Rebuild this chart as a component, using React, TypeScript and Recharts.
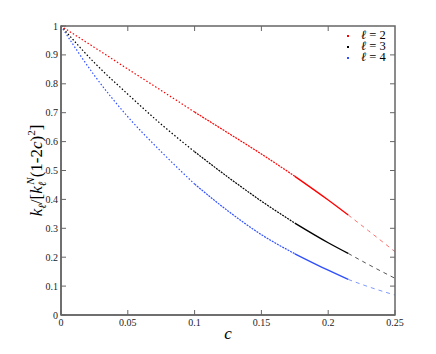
import React from 'react';
import { LineChart, Line, XAxis, YAxis } from 'recharts';

// valores (c no eixo x)
const cValues = [0, 0.025, 0.05, 0.075, 0.1, 0.125, 0.15, 0.175, 0.2, 0.215];
const l2Values = [1, 0.926, 0.851, 0.777, 0.702, 0.63, 0.557, 0.48, 0.398, 0.346];
const l3Values = [1, 0.873, 0.764, 0.66, 0.565, 0.477, 0.394, 0.318, 0.25, 0.213];
const l4Values = [1, 0.829, 0.686, 0.565, 0.453, 0.36, 0.278, 0.212, 0.155, 0.123];

// prolongamento tracejado
const cExt = [0.215, 0.23, 0.25];
const l2Ext = [0.346, 0.292, 0.219];
const l3Ext = [0.213, 0.175, 0.127];
const l4Ext = [0.123, 0.098, 0.069];

const xTicks = [0, 0.05, 0.1, 0.15, 0.2, 0.25];
const yTicks = [0, 0.1, 0.2, 0.3, 0.4, 0.5, 0.6, 0.7, 0.8, 0.9, 1];

const legendLabels = ['2', '3', '4'];

const SERIF = "'Liberation Serif', 'Times New Roman', serif";
const AXIS = '#666';

const series = [
  { name: legendLabels[0], values: l2Values, ext: l2Ext, color: '#ff0000', light: '#ff7070' },
  { name: legendLabels[1], values: l3Values, ext: l3Ext, color: '#000000', light: '#555555' },
  { name: legendLabels[2], values: l4Values, ext: l4Ext, color: '#3050ff', light: '#8098ff' },
];

const rows = (cs: number[], vs: number[], from: number, to: number) =>
  cs.map((c, i) => ({ c, v: vs[i] })).filter(r => r.c >= from && r.c <= to);

// área do gráfico
const W = 436;
const H = 354;
const margin = { top: 26, right: 41, bottom: 19, left: 21 };
const Y_W = 40;
const X_H = 20;
const box = {
  left: margin.left + Y_W,
  right: W - margin.right,
  top: margin.top,
  bottom: H - margin.bottom - X_H,
};

const TM = 3;

const LeftTick = (p: any) => (
  <g>
    <text x={p.x} y={p.y} dy={3.5} textAnchor="end" fontSize={10} fontFamily={SERIF} fill="#222">
      {p.payload.value}
    </text>
    <line x1={p.x + TM} x2={p.x + TM + 5} y1={p.y} y2={p.y} stroke={AXIS} />
  </g>
);

const BottomTick = (p: any) => (
  <g>
    <text x={p.x} y={p.y} dy={8} textAnchor="middle" fontSize={10} fontFamily={SERIF} fill="#222">
      {p.payload.value}
    </text>
    <line x1={p.x} x2={p.x} y1={p.y - TM} y2={p.y - TM - 5} stroke={AXIS} />
  </g>
);

const YLabel = (props: any) => {
  const vb = props.viewBox;
  const cx = vb.x + 21;
  const cy = vb.y + vb.height / 2;
  return (
    <text
      x={cx}
      y={cy}
      transform={`rotate(-90 ${cx} ${cy})`}
      textAnchor="middle"
      fontFamily={SERIF}
      fontSize={17}
      fill="#000"
    >
      <tspan fontStyle="italic">k</tspan>
      <tspan fontStyle="italic" fontSize={11} dy={4}>ℓ</tspan>
      <tspan dy={-4}>/[</tspan>
      <tspan fontStyle="italic">k</tspan>
      <tspan fontStyle="italic" fontSize={11} dy={4}>ℓ</tspan>
      <tspan fontStyle="italic" fontSize={11} dx={-3} dy={-12}>N</tspan>
      <tspan dy={8}>(1-2</tspan>
      <tspan fontStyle="italic">c</tspan>
      <tspan>)</tspan>
      <tspan fontSize={11} dy={-7}>2</tspan>
      <tspan dy={7}>]</tspan>
    </text>
  );
};

const XLabel = (props: any) => {
  const vb = props.viewBox;
  return (
    <text x={vb.x + vb.width / 2} y={vb.y + 24} textAnchor="middle" fontFamily={SERIF} fontStyle="italic" fontSize={17}>
      c
    </text>
  );
};

const LegendBox = () => (
  <div style={{ position: 'absolute', left: 347, top: 30, fontFamily: SERIF, fontSize: 11, lineHeight: '11px' }}>
    {series.map(s => (
      <div key={s.name} style={{ display: 'flex', alignItems: 'center', height: 11 }}>
        <span style={{ width: 2, height: 2, background: s.color, marginRight: 12 }} />
        <span style={{ fontSize: 12.5 }}>
          <i>ℓ</i> = {s.name}
        </span>
      </div>
    ))}
  </div>
);

// moldura de cima e da direita com traços internos
const Frame = () => {
  const sx = (v: number) => box.left + (v / 0.25) * (box.right - box.left);
  const sy = (v: number) => box.bottom - v * (box.bottom - box.top);
  return (
    <svg width={W} height={H} style={{ position: 'absolute', left: 0, top: 0, pointerEvents: 'none', zIndex: 2 }}>
      <rect
        x={box.left}
        y={box.top}
        width={box.right - box.left}
        height={box.bottom - box.top}
        fill="none"
        stroke={AXIS}
        strokeWidth={1.5}
      />
      {xTicks.slice(1, -1).map(t => (
        <line key={'tx' + t} x1={sx(t)} x2={sx(t)} y1={box.top} y2={box.top + 5} stroke={AXIS} />
      ))}
      {yTicks.slice(1, -1).map(t => (
        <line key={'ty' + t} x1={box.right} x2={box.right - 5} y1={sy(t)} y2={sy(t)} stroke={AXIS} />
      ))}
    </svg>
  );
};

export default function App() {
  return (
    <div style={{ position: 'relative', width: W, height: H, margin: -8, background: '#fff' }}>
      <LineChart width={W} height={H} margin={margin}>
        <XAxis
          dataKey="c"
          type="number"
          domain={[0, 0.25]}
          ticks={xTicks}
          tick={<BottomTick />}
          tickLine={false}
          tickSize={0}
          tickMargin={TM}
          height={X_H}
          stroke={AXIS}
          strokeWidth={1.5}
          allowDataOverflow
          label={<XLabel />}
        />
        <YAxis
          type="number"
          domain={[0, 1]}
          ticks={yTicks}
          tick={<LeftTick />}
          tickLine={false}
          tickSize={0}
          tickMargin={TM}
          width={Y_W}
          stroke={AXIS}
          strokeWidth={1.5}
          label={<YLabel />}
        />
        {series.map(s => (
          <Line
            key={s.name + 'a'}
            data={rows(cValues, s.values, 0, 0.1)}
            dataKey="v"
            type="monotone"
            stroke={s.color}
            strokeWidth={1.2}
            strokeDasharray="1.5 2"
            dot={false}
            isAnimationActive={false}
          />
        ))}
        {series.map(s => (
          <Line
            key={s.name + 'b'}
            data={rows(cValues, s.values, 0.1, 0.175)}
            dataKey="v"
            type="monotone"
            stroke={s.color}
            strokeWidth={1.2}
            strokeDasharray="2 1"
            dot={false}
            isAnimationActive={false}
          />
        ))}
        {series.map(s => (
          <Line
            key={s.name + 'c'}
            data={rows(cValues, s.values, 0.175, 0.215)}
            dataKey="v"
            type="monotone"
            stroke={s.color}
            strokeWidth={1.4}
            dot={false}
            isAnimationActive={false}
          />
        ))}
        {series.map(s => (
          <Line
            key={s.name + 'd'}
            data={rows(cExt, s.ext, 0.215, 0.25)}
            dataKey="v"
            type="monotone"
            stroke={s.light}
            strokeWidth={1}
            strokeDasharray="4 4"
            dot={false}
            isAnimationActive={false}
          />
        ))}
      </LineChart>
      <Frame />
      <LegendBox />
    </div>
  );
}
